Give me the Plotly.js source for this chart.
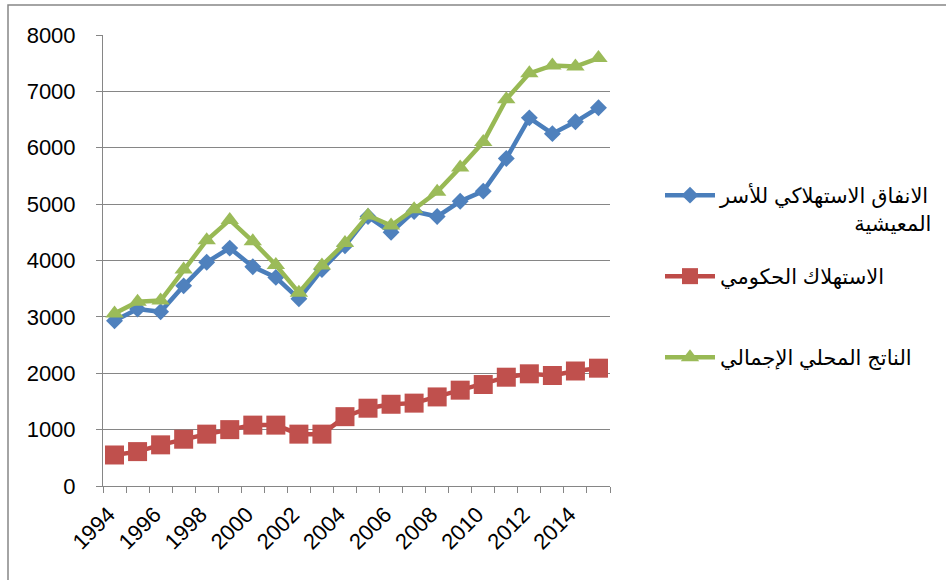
<!DOCTYPE html>
<html>
<head>
<meta charset="utf-8">
<script src="https://cdn.plot.ly/plotly-3.0.1.min.js"></script>
<style>
  html, body { margin: 0; padding: 0; background: #fff; }
  #chart { width: 946px; height: 580px; }
</style>
</head>
<body>
<div id="chart"></div>
<script>
// Years on the horizontal axis
const years = [1994, 1995, 1996, 1997, 1998, 1999, 2000, 2001, 2002, 2003, 2004,
               2005, 2006, 2007, 2008, 2009, 2010, 2011, 2012, 2013, 2014, 2015];

// Household final consumption expenditure
const householdConsumption = [2930, 3140, 3090, 3550, 3970, 4220, 3890, 3700, 3320, 3840, 4260,
                              4780, 4500, 4870, 4780, 5050, 5230, 5810, 6530, 6250, 6460, 6710];

// Government consumption
const governmentConsumption = [550, 610, 730, 830, 920, 1000, 1080, 1080, 920, 920, 1230,
                               1380, 1450, 1470, 1580, 1700, 1800, 1930, 1990, 1960, 2040, 2090];

// Gross domestic product
const gdp = [3060, 3270, 3290, 3840, 4360, 4720, 4340, 3920, 3430, 3910, 4310,
             4800, 4620, 4910, 5220, 5650, 6100, 6860, 7320, 7460, 7440, 7590];

// Tick labels shown on the x axis
const yearLabels = ['1994', '1996', '1998', '2000', '2002', '2004', '2006', '2008', '2010', '2012', '2014'];
const yearTicks = yearLabels.map(Number);

// Leading no-break spaces push the short second line to the right edge
const pad = '\u00a0'.repeat(23);
const seriesNames = [
  'الانفاق الاستهلاكي للأسر<br>' + pad + 'المعيشية',
  'الاستهلاك الحكومي',
  'الناتج المحلي الإجمالي'
];

const FONT = 'Liberation Sans, Arial, DejaVu Sans, sans-serif';
const GRID = '#868686';

const traces = [
  {
    x: years, y: householdConsumption, name: seriesNames[0], legend: 'legend',
    type: 'scatter', mode: 'lines+markers',
    line: { color: '#4A7EBB', width: 4.5 },
    marker: { symbol: 'diamond', size: 13, color: '#4F81BD' }
  },
  {
    x: years, y: governmentConsumption, name: seriesNames[1], legend: 'legend2',
    type: 'scatter', mode: 'lines+markers',
    line: { color: '#BE4B48', width: 4.5 },
    marker: { symbol: 'square', size: 19, color: '#C0504D' }
  },
  {
    x: years, y: gdp, name: seriesNames[2], legend: 'legend3',
    type: 'scatter', mode: 'lines+markers',
    line: { color: '#98B954', width: 4.5 },
    marker: { symbol: 'triangle-up', size: 16, color: '#9BBB59' }
  }
];

// One legend box per series so each entry sits at its own height
function legendAt(topPx) {
  return {
    xref: 'container', yref: 'container',
    x: 660 / 946, y: 1 - topPx / 580, xanchor: 'left', yanchor: 'top',
    valign: 'top', itemwidth: 50,
    font: { family: FONT, size: 21, color: '#000' },
    bgcolor: 'rgba(0,0,0,0)'
  };
}

const layout = {
  width: 946, height: 580,
  margin: { l: 103, r: 336, t: 35, b: 94 },
  paper_bgcolor: '#fff', plot_bgcolor: '#fff',
  font: { family: FONT, size: 22, color: '#000' },
  showlegend: true,
  legend: legendAt(175),
  legend2: legendAt(256),
  legend3: legendAt(337),
  xaxis: {
    range: [1993.5, 2015.5],
    tickmode: 'array', tickvals: yearTicks, ticktext: yearLabels,
    tickangle: -45, ticks: 'outside', ticklen: 6, tickcolor: 'rgba(0,0,0,0)',
    ticklabelstandoff: 0, ticklabelshift: -6,
    tickfont: { family: FONT, size: 22, color: '#000' },
    minor: { ticks: 'outside', ticklen: 6, tick0: 1993.5, dtick: 1, tickcolor: GRID, showgrid: false },
    showgrid: false, zeroline: false,
    showline: true, linecolor: GRID, linewidth: 1
  },
  yaxis: {
    range: [0, 8000], dtick: 1000, tick0: 0,
    ticks: 'outside', ticklen: 6, tickcolor: GRID,
    ticklabelstandoff: 16,
    tickfont: { family: FONT, size: 22, color: '#000' },
    showgrid: true, gridcolor: GRID, gridwidth: 1,
    zeroline: false,
    showline: true, linecolor: GRID, linewidth: 1
  },
  shapes: [{
    type: 'rect', xref: 'paper', yref: 'paper', layer: 'below',
    x0: (8 - 103) / 507, x1: (960 - 103) / 507,
    y0: (486 - 600) / 451, y1: (486 - 5) / 451,
    line: { color: GRID, width: 1.5 }, fillcolor: 'rgba(0,0,0,0)'
  }]
};

Plotly.newPlot('chart', traces, layout, { displayModeBar: false, staticPlot: true });
</script>
</body>
</html>
